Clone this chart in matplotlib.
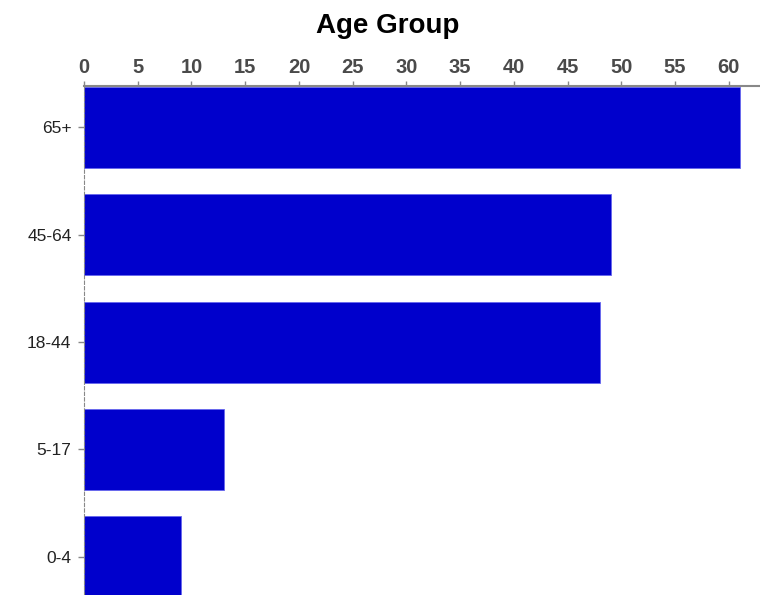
import numpy as np
import matplotlib.pyplot as plt

# Data #
groups = ['0-4', '5-17', '18-44', '45-64', '65+']
values = [9, 13, 48, 49, 61]
xticks = list(range(0, 65, 5))

bar_color = '#0000CC'
axis_color = '#888888'

fig = plt.figure(figsize=(7.6, 5.95), dpi=100)
ax = fig.add_axes([84/760, 0.0, 1 - 84/760, 1 - 86/595])

y = np.arange(len(groups))
ax.barh(y, values, height=0.755, color=bar_color, edgecolor='#6666EE', linewidth=0.6, zorder=2)

ax.set_xlim(0, 62.9)
ax.set_ylim(-0.355, 4.385)

# Axis on top #
ax.xaxis.tick_top()
ax.set_xticks(xticks)
ax.set_xticklabels([str(t) for t in xticks], fontsize=14.5, fontweight='bold',
                   color='#4a4a4a', family='Liberation Sans')
ax.tick_params(axis='x', direction='out', length=3.6, width=1, color=axis_color, pad=3)
ax.set_yticks(y)
ax.set_yticklabels(groups, fontsize=12.5, color='#222222', family='Liberation Sans')
ax.tick_params(axis='y', direction='out', length=4, width=1, color=axis_color, pad=5)

for s in ['right', 'bottom']:
    ax.spines[s].set_visible(False)
ax.spines['top'].set_color(axis_color)
ax.spines['top'].set_linewidth(1.5)
ax.spines['left'].set_color(axis_color)
ax.spines['left'].set_linestyle((0, (3, 2)))
ax.spines['left'].set_linewidth(0.8)

fig.text(388/760, 1 - 33/595, 'Age Group', ha='center', va='baseline',
         fontsize=20, fontweight='bold', family='Liberation Sans')

fig.savefig('out.png', dpi=100)
